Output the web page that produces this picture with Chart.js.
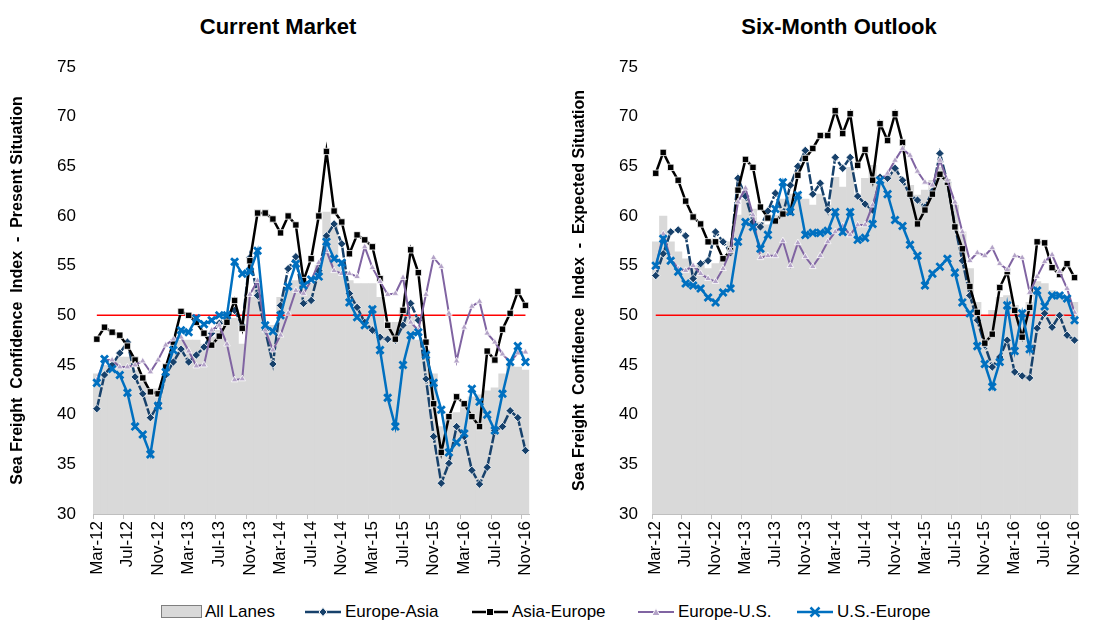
<!DOCTYPE html>
<html>
<head>
<meta charset="utf-8">
<script src="https://cdn.jsdelivr.net/npm/chart.js@4.4.1/dist/chart.umd.min.js"></script>
<style>
  body { margin: 0; background: #fff; width: 1097px; height: 624px; position: relative; overflow: hidden;
         font-family: "Liberation Sans", Arial, sans-serif; color: #000; }
  .panel { position: absolute; top: 0; height: 596px; }
  .title { position: absolute; top: 14px; font-weight: bold; font-size: 22px; transform: translateX(-50%); white-space: nowrap; }
  .item { position: absolute; top: 602px; height: 20px; display: flex; align-items: center; font-size: 17px; white-space: nowrap; }
  .item svg { margin-right: 2px; }
</style>
</head>
<body>
<div class="title" style="left:278px">Current Market</div>
<div class="title" style="left:839px">Six-Month Outlook</div>
<div class="panel" style="left:0;width:548px"><canvas id="current" width="548" height="596"></canvas></div>
<div class="panel" style="left:548px;width:549px"><canvas id="outlook" width="549" height="596"></canvas></div>

<div class="item" style="left:161px">
  <svg width="42" height="14"><rect x="0.5" y="0.5" width="40" height="12" fill="#D9D9D9" stroke="#7F7F7F"/></svg>All Lanes</div>
<div class="item" style="left:303px">
  <svg width="40" height="14"><line x1="2" y1="7" x2="38" y2="7" stroke="#17416B" stroke-width="2.5"/><path d="M20 2.5 L24 7 L20 11.5 L16 7 Z" fill="#17416B" stroke="#fff" stroke-width="1"/></svg>Europe-Asia</div>
<div class="item" style="left:470px">
  <svg width="40" height="14"><line x1="2" y1="7" x2="38" y2="7" stroke="#000" stroke-width="2.5"/><rect x="16.5" y="3.5" width="7" height="7" fill="#000" stroke="#fff" stroke-width="1"/></svg>Asia-Europe</div>
<div class="item" style="left:636px">
  <svg width="40" height="14"><line x1="2" y1="7" x2="38" y2="7" stroke="#8064A2" stroke-width="2"/><path d="M20 3 L24 10.5 L16 10.5 Z" fill="#B3A2C7" stroke="#fff" stroke-width="1"/></svg>Europe-U.S.</div>
<div class="item" style="left:795px">
  <svg width="40" height="14"><line x1="2" y1="7" x2="38" y2="7" stroke="#0070C0" stroke-width="2.5"/><path d="M15.5 2.5 L24.5 11.5 M24.5 2.5 L15.5 11.5" stroke="#0070C0" stroke-width="2.5"/></svg>U.S.-Europe</div>

<script>
const months = [
  'Mar-12','Apr-12','May-12','Jun-12','Jul-12','Aug-12','Sep-12','Oct-12','Nov-12','Dec-12',
  'Jan-13','Feb-13','Mar-13','Apr-13','May-13','Jun-13','Jul-13','Aug-13','Sep-13','Oct-13','Nov-13','Dec-13',
  'Jan-14','Feb-14','Mar-14','Apr-14','May-14','Jun-14','Jul-14','Aug-14','Sep-14','Oct-14','Nov-14','Dec-14',
  'Jan-15','Feb-15','Mar-15','Apr-15','May-15','Jun-15','Jul-15','Aug-15','Sep-15','Oct-15','Nov-15','Dec-15',
  'Jan-16','Feb-16','Mar-16','Apr-16','May-16','Jun-16','Jul-16','Aug-16','Sep-16','Oct-16','Nov-16'
]
const referenceLevel = 50

// Current Market
const allLanesCurrent = [44.1, 45.0, 45.6, 45.8, 45.8, 44.5, 43.5, 42.6, 42.6, 44.1, 46.1, 47.5, 47.5, 47.5, 47.1, 47.8, 48.5, 49.3, 49.7, 47.1,
  51.8, 52.9, 49.0, 49.0, 51.8, 53.0, 53.5, 53.2, 53.2, 55.0, 60.4, 59.2, 54.8, 53.5, 53.2, 53.2, 53.2, 51.8, 49.0, 49.3,
  50.5, 50.0, 47.5, 46.5, 44.1, 38.8, 39.5, 40.2, 41.1, 41.8, 42.0, 42.4, 42.7, 44.1, 45.0, 44.8, 44.5]
const europeAsiaCurrent = [40.6, 44.0, 45.0, 46.2, 47.3, 43.8, 42.1, 39.7, 41.0, 44.0, 45.3, 46.6, 45.3, 46.0, 46.8, 48.2, 49.2, 49.8, 50.5, 49.0,
  55.8, 52.0, 48.5, 45.1, 51.0, 54.7, 55.9, 51.2, 51.5, 54.5, 58.0, 59.2, 57.2, 52.2, 50.8, 49.3, 48.5, 47.8, 47.6, 47.5,
  49.0, 51.2, 49.5, 43.6, 37.8, 33.1, 35.1, 38.8, 37.8, 34.4, 33.0, 34.7, 38.4, 38.8, 40.4, 39.7, 36.4]
const asiaEuropeCurrent = [47.6, 48.8, 48.3, 48.0, 46.9, 45.5, 43.7, 42.3, 42.1, 44.8, 47.3, 50.4, 50.0, 49.3, 48.2, 47.0, 47.9, 49.3, 51.5, 48.7,
  55.5, 60.3, 60.3, 59.7, 58.3, 60.0, 59.1, 53.5, 55.7, 60.0, 66.5, 60.5, 59.4, 56.2, 58.1, 57.6, 56.9, 53.7, 49.0, 47.6,
  50.5, 56.6, 54.3, 47.3, 41.1, 36.2, 39.8, 41.8, 41.1, 39.8, 38.8, 46.4, 45.5, 48.6, 50.2, 52.4, 51.0]
const europeUSCurrent = [43.5, 45.5, 45.5, 44.8, 44.8, 45.0, 45.4, 44.3, 45.5, 47.0, 47.6, 47.8, 46.4, 44.9, 45.0, 48.5, 49.0, 47.1, 43.5, 43.6,
  52.1, 53.5, 48.5, 46.5, 48.0, 50.2, 52.5, 52.2, 53.5, 55.3, 56.5, 54.5, 54.2, 54.2, 53.9, 56.9, 54.8, 53.4, 52.1, 52.2,
  53.8, 49.3, 48.5, 52.1, 55.8, 54.9, 50.2, 45.4, 48.8, 50.9, 51.4, 48.2, 47.3, 46.1, 45.3, 46.2, 46.3]
const usEuropeCurrent = [43.2, 45.6, 44.6, 44.0, 42.2, 38.8, 38.0, 36.0, 40.9, 44.3, 46.5, 48.5, 48.3, 49.7, 49.1, 49.5, 50.0, 50.0, 55.4, 54.2,
  54.4, 56.5, 49.0, 48.4, 50.0, 52.9, 55.2, 53.0, 53.6, 53.9, 57.4, 55.7, 55.3, 51.3, 49.8, 49.0, 50.6, 46.5, 41.7, 38.8,
  45.0, 48.0, 48.3, 46.0, 43.2, 40.5, 36.2, 37.2, 38.1, 42.6, 41.3, 40.0, 38.4, 42.1, 45.3, 46.9, 45.3]

// Six-Month Outlook
const allLanesOutlook = [57.4, 60.0, 57.4, 56.4, 55.7, 55.0, 55.0, 54.7, 55.2, 55.5, 57.4, 60.1, 61.7, 60.7, 59.4, 59.1, 60.1, 61.7, 62.2, 62.2,
  61.7, 61.1, 62.2, 61.1, 63.9, 62.9, 64.9, 62.2, 63.8, 65.1, 64.1, 63.9, 64.8, 63.4, 63.1, 62.1, 62.6, 63.6, 64.9, 63.4,
  61.1, 58.4, 54.7, 51.3, 50.0, 50.5, 51.8, 52.0, 51.0, 50.3, 51.3, 53.4, 53.2, 52.5, 52.3, 52.0, 51.3]
const europeAsiaOutlook = [54.0, 56.2, 58.4, 58.6, 58.0, 53.7, 55.2, 55.5, 58.4, 57.4, 56.3, 63.8, 62.0, 59.4, 58.9, 60.5, 62.3, 60.2, 63.1, 65.0,
  66.6, 62.2, 63.3, 60.6, 65.9, 64.8, 65.9, 62.0, 61.2, 60.6, 63.9, 63.8, 64.8, 63.6, 62.1, 61.6, 60.9, 62.5, 66.3, 63.4,
  59.0, 55.5, 52.0, 49.5, 47.0, 44.8, 45.8, 47.5, 44.3, 43.9, 43.7, 48.7, 50.2, 48.8, 50.0, 48.0, 47.5]
const asiaEuropeOutlook = [64.3, 66.4, 64.9, 63.6, 61.5, 59.9, 59.2, 57.4, 57.4, 55.7, 56.5, 62.6, 65.7, 64.9, 60.9, 59.8, 59.5, 60.2, 60.4, 64.1,
  65.8, 66.8, 68.1, 68.1, 70.6, 68.3, 70.3, 65.1, 66.7, 63.6, 69.3, 67.6, 70.3, 67.4, 62.2, 59.2, 60.6, 62.2, 64.2, 63.4,
  58.9, 56.7, 52.9, 50.3, 47.2, 48.1, 52.8, 54.4, 50.5, 47.8, 50.8, 57.4, 57.3, 54.8, 54.1, 55.2, 53.8]
const europeUSOutlook = [54.8, 58.2, 55.7, 54.7, 54.5, 55.0, 54.2, 53.7, 53.4, 54.7, 56.5, 61.4, 62.8, 60.1, 55.8, 56.0, 56.0, 57.5, 55.0, 57.3,
  55.9, 54.9, 56.0, 57.4, 58.4, 59.0, 58.1, 59.1, 59.1, 61.1, 63.6, 64.3, 65.6, 66.8, 66.1, 64.5, 63.4, 63.1, 65.6, 63.6,
  61.4, 58.4, 55.5, 56.3, 56.0, 56.8, 55.2, 54.6, 56.0, 55.8, 52.3, 53.9, 55.4, 56.1, 54.4, 52.7, 50.3]
const usEuropeOutlook = [55.0, 57.7, 55.5, 54.4, 53.2, 53.0, 52.7, 51.8, 51.3, 52.3, 52.7, 57.4, 59.4, 58.9, 56.7, 58.1, 60.7, 63.4, 60.4, 62.1,
  58.1, 58.3, 58.3, 58.5, 60.4, 58.4, 60.4, 57.6, 57.8, 59.2, 63.6, 62.2, 59.6, 59.0, 57.1, 56.0, 53.0, 54.2, 54.9, 55.7,
  54.3, 51.3, 50.2, 46.9, 45.1, 42.8, 45.3, 51.0, 46.4, 50.2, 46.6, 52.5, 50.9, 52.0, 52.0, 51.7, 49.5]

Chart.defaults.font.family = '"Liberation Sans", Arial, sans-serif'
Chart.defaults.color = '#000'

const tickGray = '#BFBFBF'

function buildChart(id, series, axisTitle, layout) {
  const lineCommon = { type: 'line', tension: 0, fill: false, pointHoverRadius: 0 }
  return new Chart(document.getElementById(id), {
    type: 'bar',
    data: {
      labels: months,
      datasets: [
        { ...lineCommon, label: 'U.S.-Europe', data: series.usEurope, order: 1,
          borderColor: '#0070C0', borderWidth: 2.5,
          pointStyle: 'crossRot', pointRadius: 5, pointBorderWidth: 2.8, pointBorderColor: '#0070C0' },
        { ...lineCommon, label: 'Europe-U.S.', data: series.europeUS, order: 2,
          borderColor: '#8064A2', borderWidth: 2,
          pointStyle: 'triangle', pointRadius: 3.8, pointBackgroundColor: '#B3A2C7', pointBorderColor: '#fff', pointBorderWidth: 0.8 },
        { ...lineCommon, label: 'Asia-Europe', data: series.asiaEurope, order: 3,
          borderColor: '#000', borderWidth: 2.5,
          pointStyle: 'rect', pointRadius: 4.5, pointBackgroundColor: '#000', pointBorderColor: '#fff', pointBorderWidth: 0.8 },
        { ...lineCommon, label: 'Europe-Asia', data: series.europeAsia, order: 4,
          borderColor: '#17416B', borderWidth: 2.5, borderDash: [10, 2],
          pointStyle: 'rectRot', pointRadius: 4.2, pointBackgroundColor: '#17416B', pointBorderColor: '#fff', pointBorderWidth: 0.8 },
        { ...lineCommon, label: 'Reference', data: months.map(() => referenceLevel), order: 5,
          borderColor: '#FF0000', borderWidth: 1.5, pointRadius: 0 },
        { label: 'All Lanes', data: series.allLanes, order: 6,
          backgroundColor: '#D9D9D9', borderWidth: 0, barPercentage: 1, categoryPercentage: 1 },
      ],
    },
    options: {
      animation: false,
      responsive: false,
      events: [],
      layout: { padding: { top: 67, right: layout.right, bottom: 0, left: 0 } },
      plugins: { legend: { display: false }, tooltip: { enabled: false }, title: { display: false } },
      scales: {
        x: {
          offset: true,
          grid: {
            offset: true,
            drawOnChartArea: false,
            drawTicks: true,
            tickLength: 5,
            color: ctx => (ctx.index % 4 === 0 ? tickGray : 'rgba(0,0,0,0)'),
          },
          border: { color: tickGray, width: 1 },
          ticks: {
            autoSkip: false,
            minRotation: 90,
            maxRotation: 90,
            padding: 2,
            font: { size: 17 },
            callback: function (val, index) { return index % 4 === 0 ? this.getLabelForValue(val) : '' },
          },
          afterFit: scale => { scale.height = 82 },
        },
        y: {
          min: 30,
          max: 75,
          grid: { display: false, drawTicks: false },
          border: { display: false },
          ticks: { stepSize: 5, padding: layout.tickPad, font: { size: 17 } },
          title: {
            display: true,
            text: axisTitle,
            font: { size: 16, weight: 'bold' },
            padding: { top: layout.titlePad, bottom: 0 },
          },
          afterFit: scale => { scale.width = layout.axisWidth },
        },
      },
    },
  })
}

buildChart('current', {
  allLanes: allLanesCurrent, europeAsia: europeAsiaCurrent, asiaEurope: asiaEuropeCurrent,
  europeUS: europeUSCurrent, usEurope: usEuropeCurrent,
}, 'Sea Freight  Confidence  Index  -  Present Situation', { axisWidth: 93, tickPad: 17, titlePad: 8, right: 15 })

buildChart('outlook', {
  allLanes: allLanesOutlook, europeAsia: europeAsiaOutlook, asiaEurope: asiaEuropeOutlook,
  europeUS: europeUSOutlook, usEurope: usEuropeOutlook,
}, 'Sea Freight  Confidence  Index  -  Expected Situation', { axisWidth: 104, tickPad: 14, titlePad: 22, right: 4 })
</script>
</body>
</html>
